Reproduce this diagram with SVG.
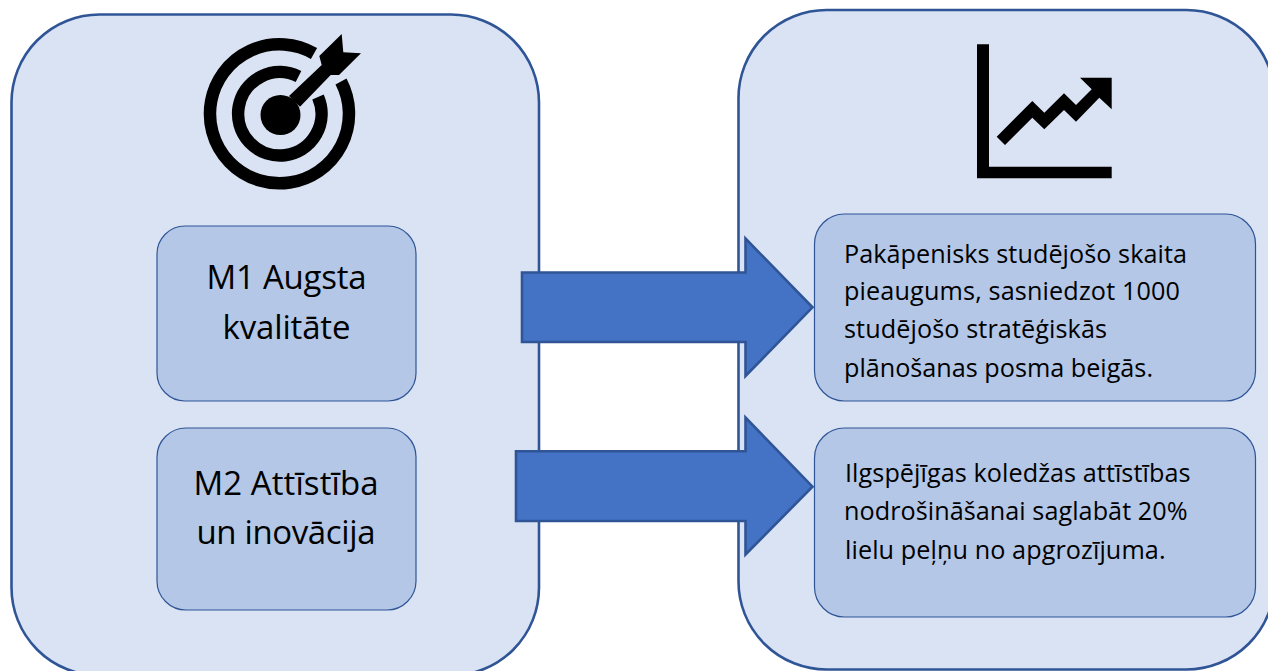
<svg xmlns="http://www.w3.org/2000/svg" width="1268" height="671" viewBox="0 0 1268 671">
<style>
.panel{fill:#dae3f3;stroke:#2f5597;stroke-width:2.6}
.box{fill:#b4c7e7;stroke:#2f5597;stroke-width:1.2}
.arrow{fill:#4472c4;stroke:#2f5597;stroke-width:2.6}
.big{font-family:"Open Sans","Noto Sans",sans-serif;font-size:33px;fill:#000}
.small{font-family:"Open Sans","Noto Sans",sans-serif;font-size:25.2px;fill:#000}
.ring{fill:none;stroke:#000;stroke-width:12.5}
</style>
<defs><path id="dart" d="M289 96L321.700 65 319.300 56 341.700 34 343.300 52.300 361 53.300 339 75 330.700 75 300 106.700z"/></defs>
<rect width="1268" height="671" fill="#fff"/>
<g id="panel-left"><rect class="panel" x="11.500" y="14.500" width="527.500" height="661" rx="88"/>
<g id="icon-target">
<path class="ring" d="M314 53.500A69.500 69.500 0 1 0 341 81.500"/>
<path class="ring" d="M298.500 76.500A41.700 41.700 0 1 0 318 97"/>
<use href="#dart" fill="#dae3f3" stroke="#dae3f3" stroke-width="7"/>
<use href="#dart" fill="#000"/>
<circle cx="280.500" cy="115" r="20"/>
</g></g>
<g id="panel-right"><rect class="panel" x="738.500" y="10" width="536" height="659.500" rx="88"/>
<g id="icon-chart">
<path fill="#000" d="M977 44.300h12v122.400h122.700v11.600h-134.700z"/>
<path fill="#000" d="M996.700 136.700L1032.300 101 1044.300 112.700 1064 93.300 1076 105 1091.700 89.300 1080 77.700H1111.700V109.300L1099.300 97.700 1076 121.700 1064 110 1044.300 129.300 1032.300 117.700 1005 145z"/>
</g></g>
<g id="node-m1"><rect class="box" x="157" y="226" width="259" height="175" rx="28"/>
<text class="big"><tspan x="206.500" y="289.300" textLength="160">M1 Augsta</tspan><tspan x="222.500" y="338.500" textLength="128">kvalitāte</tspan></text></g>
<g id="node-m2"><rect class="box" x="157" y="428" width="259" height="182" rx="29"/>
<text class="big"><tspan x="193.500" y="495" textLength="185">M2 Attīstība</tspan><tspan x="196.500" y="543.500" textLength="179">un inovācija</tspan></text></g>
<g id="node-r1"><rect class="box" x="814.500" y="214" width="441" height="187" rx="30"/>
<text class="small"><tspan x="844" y="262.500" textLength="343">Pakāpenisks studējošo skaita</tspan><tspan x="844" y="300" textLength="336">pieaugums, sasniedzot 1000</tspan><tspan x="844" y="338.300" textLength="263">studējošo stratēģiskās</tspan><tspan x="844" y="376.500" textLength="309">plānošanas posma beigās.</tspan></text></g>
<g id="node-r2"><rect class="box" x="814.500" y="428" width="441" height="189" rx="30"/>
<text class="small"><tspan x="845" y="482.300" textLength="345.500">Ilgspējīgas koledžas attīstības</tspan><tspan x="844" y="520" textLength="343.500">nodrošināšanai saglabāt 20%</tspan><tspan x="845" y="559" textLength="320.500">lielu peļņu no apgrozījuma.</tspan></text></g>
<g id="connectors">
<path class="arrow" d="M522 272.500H745.500V238.500L812.500 307.300 745.500 376V342H522z"/>
<path class="arrow" d="M516 451.300H745.500V417.500L812.500 486.700 745.500 554.500V521H516z"/>
</g>
</svg>
